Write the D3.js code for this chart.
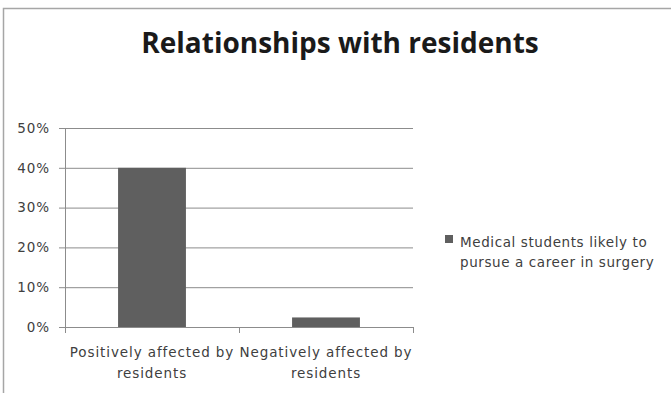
<!DOCTYPE html>
<html>
<head>
<meta charset="utf-8">
<script src="https://cdn.jsdelivr.net/npm/d3@7"></script>
<style>
  body { margin: 0; background: #fff; }
  text { font-family: "DejaVu Sans", sans-serif; }
</style>
</head>
<body>
<svg id="chart" width="671" height="393"></svg>
<script>
// Data
var categories = [["Positively affected by", "residents"], ["Negatively affected by", "residents"]];
var values = [0.40, 0.024];
var yTicks = [0, 0.1, 0.2, 0.3, 0.4, 0.5];
var seriesName = ["Medical students likely to", "pursue a career in surgery"];
var title = "Relationships with residents";

var svg = d3.select("#chart");

// outer frame (top + left edges visible)
svg.append("path")
    .attr("d", "M3.5,393 V8.5 H671")
    .attr("fill", "none")
    .attr("stroke", "#a6a6a6")
    .attr("stroke-width", 1.5);

svg.append("text")
    .attr("x", 340)
    .attr("y", 53)
    .attr("text-anchor", "middle")
    .attr("font-size", 28)
    .attr("font-weight", "bold")
    .attr("fill", "#1a1a1a")
    .style("font-family", "Open Sans, sans-serif")
    .text(title);

var plotLeft = 65, plotRight = 413, plotTop = 128, plotBottom = 327;
var smallFont = 13.5, spacing = "0.9px";

var x = d3.scaleBand()
    .domain(d3.range(categories.length))
    .range([plotLeft, plotRight])
    .padding(0);

var y = d3.scaleLinear()
    .domain([0, 0.5])
    .range([plotBottom, plotTop]);

// gridlines + y ticks
svg.append("g")
    .attr("transform", "translate(" + plotLeft + ",0)")
    .call(d3.axisLeft(y)
        .tickValues(yTicks)
        .tickSize(-(plotRight - plotLeft))
        .tickPadding(15)
        .tickFormat(d3.format(".0%")))
    .call(function(g) {
        g.select(".domain").remove();
        g.selectAll(".tick line")
            .attr("stroke", "#8c8c8c")
            .attr("x1", -6);
        g.selectAll(".tick text")
            .attr("font-size", smallFont)
            .attr("fill", "#404040")
            .attr("font-family", "DejaVu Sans, sans-serif")
            .style("letter-spacing", spacing);
    });

// y axis line
svg.append("line")
    .attr("x1", plotLeft + 0.5).attr("x2", plotLeft + 0.5)
    .attr("y1", plotTop).attr("y2", plotBottom)
    .attr("stroke", "#8c8c8c");

// bars
var barW = x.bandwidth() * 0.39;
svg.append("g")
    .selectAll("rect")
    .data(values)
    .enter()
    .append("rect")
    .attr("x", function(d, i) { return x(i) + (x.bandwidth() - barW) / 2; })
    .attr("y", function(d) { return y(d); })
    .attr("width", barW)
    .attr("height", function(d) { return y(0) - y(d); })
    .attr("fill", "#5f5f5f");

// x axis
svg.append("line")
    .attr("x1", plotLeft).attr("x2", plotRight)
    .attr("y1", plotBottom + 0.5).attr("y2", plotBottom + 0.5)
    .attr("stroke", "#8c8c8c");

var bounds = [plotLeft].concat(categories.map(function(c, i) { return x(i) + x.bandwidth(); }));
svg.append("g")
    .selectAll("line")
    .data(bounds)
    .enter()
    .append("line")
    .attr("x1", function(d) { return Math.round(d) + 0.5; })
    .attr("x2", function(d) { return Math.round(d) + 0.5; })
    .attr("y1", plotBottom)
    .attr("y2", plotBottom + 6)
    .attr("stroke", "#8c8c8c");

var labels = svg.append("g")
    .selectAll("text")
    .data(categories)
    .enter()
    .append("text")
    .attr("text-anchor", "middle")
    .attr("font-size", smallFont)
    .attr("fill", "#404040")
    .style("letter-spacing", spacing);

labels.selectAll("tspan")
    .data(function(d, i) { return d.map(function(s) { return { s: s, i: i }; }); })
    .enter()
    .append("tspan")
    .attr("x", function(d) { return x(d.i) + x.bandwidth() / 2; })
    .attr("y", function(d, j) { return 357 + j * 21; })
    .text(function(d) { return d.s; });

// legend
svg.append("rect")
    .attr("x", 445)
    .attr("y", 235)
    .attr("width", 8)
    .attr("height", 8)
    .attr("fill", "#5f5f5f");

svg.append("text")
    .attr("font-size", smallFont)
    .attr("fill", "#404040")
    .style("letter-spacing", "0.6px")
    .selectAll("tspan")
    .data(seriesName)
    .enter()
    .append("tspan")
    .attr("x", 460)
    .attr("y", function(d, i) { return 247 + i * 20; })
    .text(function(d) { return d; });
</script>
</body>
</html>
